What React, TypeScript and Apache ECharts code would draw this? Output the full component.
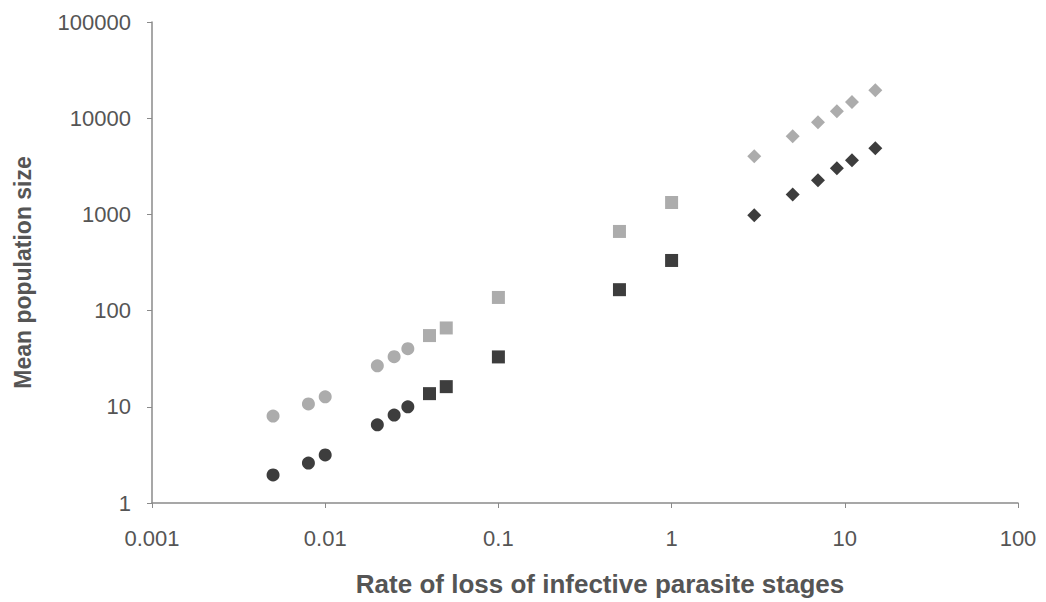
import React, { useEffect, useRef } from "react";
import * as echarts from "echarts";

// Rate of loss (x) and mean population size (y)
const xCircles = [0.005, 0.008, 0.01, 0.02, 0.025, 0.03];
const xSquares = [0.04, 0.05, 0.1, 0.5, 1];
const xDiamonds = [3, 5, 7, 9, 11, 15];

const darkCircles = [1.96, 2.6, 3.16, 6.5, 8.2, 10];
const darkSquares = [13.7, 16.2, 33, 165, 332];
const darkDiamonds = [980, 1610, 2260, 3010, 3650, 4870];

const lightCircles = [8.0, 10.7, 12.7, 26.7, 33.2, 40.2];
const lightSquares = [55, 66, 137, 665, 1330];
const lightDiamonds = [4020, 6490, 9080, 11800, 14700, 19500];

const xTicks = ["0.001", "0.01", "0.1", "1", "10", "100"];
const yTicks = ["1", "10", "100", "1000", "10000", "100000"];

const DARK = "#3d3d3d";
const LIGHT = "#acacac";

function pairs(xs: number[], ys: number[]) {
  return xs.map((x, i) => [x, ys[i]]);
}

export default function App() {
  const ref = useRef<HTMLDivElement>(null);
  useEffect(() => {
    if (!ref.current) return;
    const chart = echarts.init(ref.current, undefined, { renderer: "svg" });
    const mk = (name: string, data: number[][], symbol: string, size: number, color: string) => ({
      name,
      type: "scatter",
      data,
      symbol,
      symbolSize: size,
      itemStyle: { color, opacity: 1 },
    });
    const font = "Liberation Sans, Arial, sans-serif";
    chart.setOption({
      animation: false,
      backgroundColor: "#ffffff",
      grid: { left: 152, right: 28, top: 22, bottom: 99, containLabel: false },
      xAxis: {
        type: "log",
        logBase: 10,
        min: 0.001,
        max: 100,
        name: "Rate of loss of infective parasite stages",
        nameLocation: "middle",
        nameGap: 68,
        nameTextStyle: { fontSize: 26, fontWeight: "bold", color: "#555", fontFamily: font, padding: [0, 0, 0, 30] },
        axisLine: { show: true, lineStyle: { color: "#8a8a8a", width: 1.5 } },
        axisTick: { show: true, length: 5, lineStyle: { color: "#8a8a8a" } },
        minorTick: { show: false },
        splitLine: { show: false },
        axisLabel: {
          fontSize: 22,
          color: "#555",
          fontFamily: font,
          margin: 24,
          formatter: (v: number) => xTicks[Math.round(Math.log10(v)) + 3] ?? "",
        },
      },
      yAxis: {
        type: "log",
        logBase: 10,
        min: 1,
        max: 100000,
        name: "Mean population size",
        nameLocation: "middle",
        nameGap: 118,
        nameTextStyle: { fontSize: 23, fontWeight: "bold", color: "#555", fontFamily: font, padding: [0, 20, 0, 0] },
        axisLine: { show: true, lineStyle: { color: "#8a8a8a", width: 1.5 } },
        axisTick: { show: true, length: 5, lineStyle: { color: "#8a8a8a" } },
        splitLine: { show: false },
        axisLabel: {
          fontSize: 22,
          color: "#555",
          fontFamily: font,
          margin: 21,
          formatter: (v: number) => yTicks[Math.round(Math.log10(v))] ?? "",
        },
      },
      series: [
        mk("dark circles", pairs(xCircles, darkCircles), "circle", 13, DARK),
        mk("dark squares", pairs(xSquares, darkSquares), "rect", 13, DARK),
        mk("dark diamonds", pairs(xDiamonds, darkDiamonds), "diamond", 14, DARK),
        mk("light circles", pairs(xCircles, lightCircles), "circle", 13, LIGHT),
        mk("light squares", pairs(xSquares, lightSquares), "rect", 13, LIGHT),
        mk("light diamonds", pairs(xDiamonds, lightDiamonds), "diamond", 14, LIGHT),
      ],
    });
    return () => chart.dispose();
  }, []);
  return <div ref={ref} style={{ width: 1046, height: 602, position: "fixed", left: 0, top: 0 }} />;
}
